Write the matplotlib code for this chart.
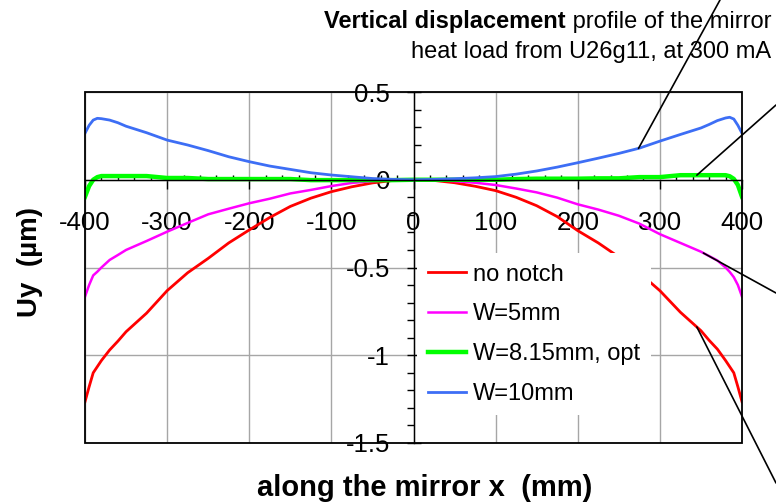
import numpy as np
import matplotlib
matplotlib.use("Agg")
import matplotlib.pyplot as plt
import matplotlib.lines as mlines
from matplotlib.patches import Rectangle
from matplotlib.ticker import MultipleLocator, FuncFormatter

plt.rcParams['font.family'] = ['Liberation Sans', 'DejaVu Sans']
plt.rcParams['axes.unicode_minus'] = False

# position along the mirror (mm)
x_mm = [-400, -395, -390, -385, -380, -370, -360, -350, -325, -300, -275,
        -250, -225, -200, -175, -150, -125, -100, -75, -50, -25, 0,
        25, 50, 75, 100, 125, 150, 175, 200, 225, 250, 275,
        300, 325, 350, 360, 370, 380, 385, 390, 395, 400]

# vertical displacement Uy (um) for each notch width
uy_no_notch = [-1.265, -1.18, -1.10, -1.065, -1.03, -0.97, -0.92, -0.866, -0.76, -0.632, -0.53,
               -0.448, -0.36, -0.286, -0.215, -0.152, -0.105, -0.068, -0.04, -0.018, -0.004, 0.0,
               -0.004, -0.017, -0.037, -0.062, -0.10, -0.148, -0.21, -0.29, -0.36, -0.44, -0.53,
               -0.632, -0.755, -0.86, -0.915, -0.965, -1.03, -1.065, -1.10, -1.18, -1.265]
uy_w5 = [-0.666, -0.60, -0.545, -0.524, -0.50, -0.457, -0.429, -0.40, -0.349, -0.296, -0.246,
         -0.197, -0.165, -0.134, -0.108, -0.078, -0.058, -0.036, -0.018, -0.008, -0.002, 0.0,
         -0.002, -0.008, -0.017, -0.03, -0.05, -0.072, -0.102, -0.14, -0.17, -0.205, -0.25,
         -0.31, -0.36, -0.41, -0.435, -0.46, -0.50, -0.525, -0.555, -0.60, -0.666]
uy_w815 = [-0.097, -0.036, 0.0, 0.015, 0.021, 0.021, 0.021, 0.021, 0.021, 0.01, 0.01,
           0.004, 0.004, 0.004, 0.004, 0.004, -0.002, -0.002, -0.002, -0.002, -0.002, 0.0,
           0.0, 0.0, 0.0, 0.0, 0.004, 0.006, 0.006, 0.006, 0.008, 0.008, 0.015,
           0.015, 0.026, 0.026, 0.026, 0.026, 0.026, 0.02, 0.005, -0.03, -0.097]
uy_w10 = [0.265, 0.31, 0.34, 0.35, 0.348, 0.34, 0.325, 0.305, 0.268, 0.226, 0.198,
          0.166, 0.131, 0.103, 0.078, 0.059, 0.04, 0.027, 0.017, 0.007, 0.002, 0.0,
          0.002, 0.006, 0.011, 0.018, 0.032, 0.05, 0.072, 0.097, 0.123, 0.15, 0.18,
          0.22, 0.258, 0.295, 0.315, 0.337, 0.352, 0.356, 0.346, 0.31, 0.265]

labels = ['no notch', 'W=5mm', 'W=8.15mm, opt', 'W=10mm']
colors = ['#ff0000', '#ff00ff', '#00ff00', '#3d6ef5']
widths = [2.0, 1.8, 3.2, 2.0]

fig = plt.figure(figsize=(7.76, 5.03), dpi=100)
ax = fig.add_axes([85/776, 60/503, 657/776, 351/503])

for y, lab, c, lw in zip([uy_no_notch, uy_w5, uy_w815, uy_w10], labels, colors, widths):
    ax.plot(x_mm, y, color=c, lw=lw, label=lab, solid_joinstyle='round')

ax.set_xlim(-400, 400)
ax.set_ylim(-1.5, 0.5)

# axes cross at the origin, frame drawn around the whole plot area
ax.spines['left'].set_position(('data', 0))
ax.spines['bottom'].set_position(('data', 0))
ax.spines['top'].set_visible(False)
ax.spines['right'].set_visible(False)
for s in ['left', 'bottom']:
    ax.spines[s].set_linewidth(1.0)
ax.add_patch(Rectangle((0, 0), 1, 1, transform=ax.transAxes, fill=False,
                       lw=1.3, ec='black', zorder=6, clip_on=False))

ax.xaxis.set_major_locator(MultipleLocator(100))
ax.xaxis.set_minor_locator(MultipleLocator(20))
ax.yaxis.set_major_locator(MultipleLocator(0.5))
ax.yaxis.set_minor_locator(MultipleLocator(0.1))
fmt = FuncFormatter(lambda v, p: '%g' % v)
ax.xaxis.set_major_formatter(fmt)
ax.yaxis.set_major_formatter(fmt)

ax.tick_params(axis='x', which='major', direction='out', length=6.5, width=1, pad=16, labelsize=18.5)
ax.tick_params(axis='x', which='minor', direction='in', length=3.5, width=1)
ax.tick_params(axis='y', which='major', direction='inout', length=10, width=1, pad=12, labelsize=18.5)
ax.tick_params(axis='y', which='minor', direction='in', length=5, width=1)

ax.grid(True, which='major', color='#a6a6a6', lw=1.0)
ax.set_axisbelow(True)

leg = ax.legend(loc='upper left', bbox_to_anchor=(0.506, 0.541), fontsize=17,
                frameon=True, fancybox=False, framealpha=1, edgecolor='none',
                handlelength=1.6, handletextpad=0.3, labelspacing=0.75,
                borderpad=0.45, borderaxespad=0)
leg.set_zorder(5)

fig.text(30/776, 1 - 262/503, 'Uy  (µm)', rotation=90, ha='center', va='center',
         fontsize=20, fontweight='bold')
fig.text(425/776, 1 - 488/503, 'along the mirror x  (mm)', ha='center', va='center',
         fontsize=21, fontweight='bold')

# two-line title, bold lead-in on the first line
t1 = fig.text(771/776, 1 - 28/503, ' profile of the mirror', ha='right', va='baseline', fontsize=17)
fig.text(771/776, 1 - 58/503, 'heat load from U26g11, at 300 mA', ha='right', va='baseline', fontsize=17)
fig.canvas.draw()
bb = t1.get_window_extent()
fig.text(bb.x0 / fig.bbox.width, 1 - 28/503, 'Vertical displacement', ha='right', va='baseline',
         fontsize=17, fontweight='bold')

# minor ticks below zero point to the left of the axis
for t in ax.yaxis.get_minor_ticks():
    if t.get_loc() < 0:
        t.tick1line.set_marker(mlines.TICKLEFT)

# leader lines from the curves out past the plot edge
series = {'blue': uy_w10, 'green': uy_w815, 'magenta': uy_w5, 'red': uy_no_notch}
leaders = [('blue', 274, (720, 503)), ('green', 345, (776, 398)),
           ('magenta', 353, (776, 210)), ('red', 345, (776, 20))]
for key, xp, (fx, fy) in leaders:
    yp = np.interp(xp, x_mm, series[key])
    ax.annotate('', xy=(xp, yp), xycoords='data', xytext=(fx/776, fy/503),
                textcoords='figure fraction', annotation_clip=False,
                arrowprops=dict(arrowstyle='-', color='black', lw=1.2, shrinkA=0, shrinkB=0),
                zorder=7)

fig.savefig('out.png', dpi=100)
